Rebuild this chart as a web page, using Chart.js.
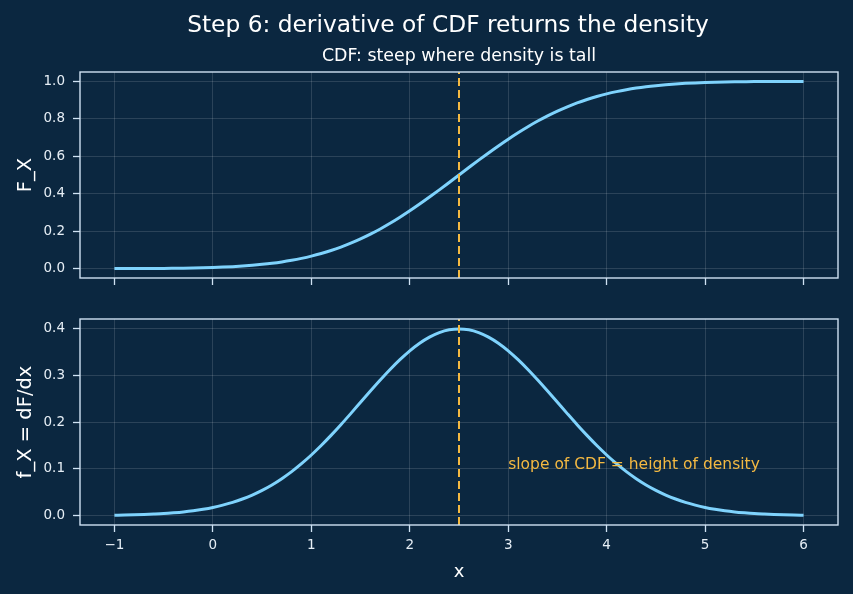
<!DOCTYPE html>
<html>
<head>
<meta charset="utf-8">
<script src="https://cdn.jsdelivr.net/npm/chart.js@4.4.1/dist/chart.umd.min.js"></script>
<style>
  html, body { margin: 0; padding: 0; background: #0b2740; }
  #wrap { position: relative; width: 853px; height: 594px; background: #0b2740; overflow: hidden; }
  canvas { position: absolute; left: 0; }
</style>
</head>
<body>
<div id="wrap">
  <canvas id="top" width="853" height="300" style="top:0"></canvas>
  <canvas id="bot" width="853" height="294" style="top:300px"></canvas>
</div>
<script>
// ---- data ----
const xs = [-1.0, -0.9, -0.8, -0.7, -0.6, -0.5, -0.4, -0.3, -0.2, -0.1,
             0.0,  0.1,  0.2,  0.3,  0.4,  0.5,  0.6,  0.7,  0.8,  0.9,
             1.0,  1.1,  1.2,  1.3,  1.4,  1.5,  1.6,  1.7,  1.8,  1.9,
             2.0,  2.1,  2.2,  2.3,  2.4,  2.5,  2.6,  2.7,  2.8,  2.9,
             3.0,  3.1,  3.2,  3.3,  3.4,  3.5,  3.6,  3.7,  3.8,  3.9,
             4.0,  4.1,  4.2,  4.3,  4.4,  4.5,  4.6,  4.7,  4.8,  4.9,
             5.0,  5.1,  5.2,  5.3,  5.4,  5.5,  5.6,  5.7,  5.8,  5.9, 6.0];
const cdfValues = [0.0002, 0.0003, 0.0005, 0.0007, 0.0010, 0.0013, 0.0019, 0.0026, 0.0035, 0.0047,
                   0.0062, 0.0082, 0.0107, 0.0139, 0.0179, 0.0228, 0.0287, 0.0359, 0.0446, 0.0548,
                   0.0668, 0.0808, 0.0968, 0.1151, 0.1357, 0.1587, 0.1841, 0.2119, 0.2420, 0.2743,
                   0.3085, 0.3446, 0.3821, 0.4207, 0.4602, 0.5000, 0.5398, 0.5793, 0.6179, 0.6554,
                   0.6915, 0.7257, 0.7580, 0.7881, 0.8159, 0.8413, 0.8643, 0.8849, 0.9032, 0.9192,
                   0.9332, 0.9452, 0.9554, 0.9641, 0.9713, 0.9772, 0.9821, 0.9861, 0.9893, 0.9918,
                   0.9938, 0.9953, 0.9965, 0.9974, 0.9981, 0.9987, 0.9990, 0.9993, 0.9995, 0.9997, 0.9998];
const pdfValues = [0.0009, 0.0012, 0.0017, 0.0024, 0.0033, 0.0044, 0.0060, 0.0079, 0.0104, 0.0136,
                   0.0175, 0.0224, 0.0283, 0.0355, 0.0440, 0.0540, 0.0656, 0.0790, 0.0940, 0.1109,
                   0.1295, 0.1497, 0.1714, 0.1942, 0.2179, 0.2420, 0.2661, 0.2897, 0.3123, 0.3332,
                   0.3521, 0.3683, 0.3814, 0.3910, 0.3970, 0.3989, 0.3970, 0.3910, 0.3814, 0.3683,
                   0.3521, 0.3332, 0.3123, 0.2897, 0.2661, 0.2420, 0.2179, 0.1942, 0.1714, 0.1497,
                   0.1295, 0.1109, 0.0940, 0.0790, 0.0656, 0.0540, 0.0440, 0.0355, 0.0283, 0.0224,
                   0.0175, 0.0136, 0.0104, 0.0079, 0.0060, 0.0044, 0.0033, 0.0024, 0.0017, 0.0012, 0.0009];
const meanX = 2.5;
const xTicks = [-1, 0, 1, 2, 3, 4, 5, 6];
const cdfTicks = [0, 0.2, 0.4, 0.6, 0.8, 1.0];
const pdfTicks = [0, 0.1, 0.2, 0.3, 0.4];
const titleText = 'Step 6: derivative of CDF returns the density';
const subtitleText = 'CDF: steep where density is tall';
const cdfLabel = 'F_X';
const pdfLabel = 'f_X = dF/dx';
const xLabel = 'x';
const noteText = 'slope of CDF = height of density';
const noteX = 3.0, noteY = 0.1;

// ---- style ----
const BG = '#0b2740';
const LINE = '#7fd3fd';
const VLINE = '#f4b942';
const FRAME = '#cfe2f3';
const GRID = 'rgba(255,255,255,0.17)';
const TICKTXT = '#e6eef5';
const FONT = "'DejaVu Sans', sans-serif";

Chart.defaults.font.family = FONT;
Chart.defaults.animation = false;

const framePlugin = {
  id: 'frame',
  afterDatasetsDraw(chart, args, opts) {
    const {ctx, chartArea: a} = chart;
    ctx.save();
    ctx.strokeStyle = FRAME;
    ctx.lineWidth = 1.4;
    ctx.strokeRect(a.left, a.top, a.right - a.left, a.bottom - a.top);
    ctx.restore();
    if (opts && opts.draw) opts.draw(chart);
  }
};

function fixedTicks(arr) {
  return (scale) => { scale.ticks = arr.map(v => ({value: v})); };
}

function makeChart(id, values, yMin, yMax, yTicks, yLabel, bottomAxis, drawExtra) {
  const xAxisHeight = bottomAxis ? 69 : 22;
  return new Chart(document.getElementById(id), {
    type: 'line',
    data: {
      datasets: [
        {
          data: xs.map((x, i) => ({x: x, y: values[i]})),
          borderColor: LINE, borderWidth: 3, pointRadius: 0,
          cubicInterpolationMode: 'monotone', fill: false, order: 2
        },
        {
          data: [{x: meanX, y: yMin}, {x: meanX, y: yMax}],
          borderColor: VLINE, borderWidth: 2, borderDash: [8, 4], pointRadius: 0, order: 1
        }
      ]
    },
    options: {
      responsive: false,
      animation: false,
      layout: { padding: { top: bottomAxis ? 19 : 72, right: 15, left: 0, bottom: 0 } },
      plugins: {
        legend: { display: false }, tooltip: { enabled: false },
        frame: { draw: drawExtra }
      },
      scales: {
        x: {
          type: 'linear', min: -1.35, max: 6.35,
          afterBuildTicks: fixedTicks(xTicks),
          afterFit: (s) => { s.height = xAxisHeight; },
          grid: { color: GRID, lineWidth: 0.8, tickColor: FRAME, tickWidth: 1.3, tickLength: 7, drawTicks: true },
          border: { display: false },
          ticks: {
            display: bottomAxis, color: TICKTXT, padding: 5, font: { size: 13.5 },
            maxRotation: 0, autoSkip: false,
            callback: (v) => (v < 0 ? '\u2212' + Math.abs(v) : String(v))
          },
          title: { display: bottomAxis, text: xLabel, color: '#ffffff', font: { size: 18 }, padding: { top: 0, bottom: 11 } }
        },
        y: {
          type: 'linear', min: yMin, max: yMax,
          afterBuildTicks: fixedTicks(yTicks),
          afterFit: (s) => { s.width = 80; },
          grid: { color: GRID, lineWidth: 0.8, tickColor: FRAME, tickWidth: 1.3, tickLength: 7, drawTicks: true },
          border: { display: false },
          ticks: {
            color: TICKTXT, padding: 8, font: { size: 13.5 }, autoSkip: false,
            callback: (v) => v.toFixed(1)
          },
          title: { display: true, text: yLabel, color: '#ffffff', font: { size: 19.5 }, padding: { top: 14, bottom: 0 } }
        }
      }
    },
    plugins: [framePlugin]
  });
}

makeChart('top', cdfValues, -0.05, 1.05, cdfTicks, cdfLabel, false, (chart) => {
  const ctx = chart.ctx;
  ctx.save();
  ctx.fillStyle = '#ffffff';
  ctx.textAlign = 'center';
  ctx.textBaseline = 'alphabetic';
  ctx.font = "23.3px " + FONT;
  ctx.fillText(titleText, 448, 32);
  ctx.font = "17.4px " + FONT;
  ctx.fillText(subtitleText, 459, 61);
  ctx.restore();
});

makeChart('bot', pdfValues, -0.02, 0.42, pdfTicks, pdfLabel, true, (chart) => {
  const ctx = chart.ctx;
  const px = chart.scales.x.getPixelForValue(noteX);
  const py = chart.scales.y.getPixelForValue(noteY);
  ctx.save();
  ctx.fillStyle = VLINE;
  ctx.textAlign = 'left';
  ctx.textBaseline = 'alphabetic';
  ctx.font = "15.5px " + FONT;
  ctx.fillText(noteText, px, py);
  ctx.restore();
});
</script>
</body>
</html>
